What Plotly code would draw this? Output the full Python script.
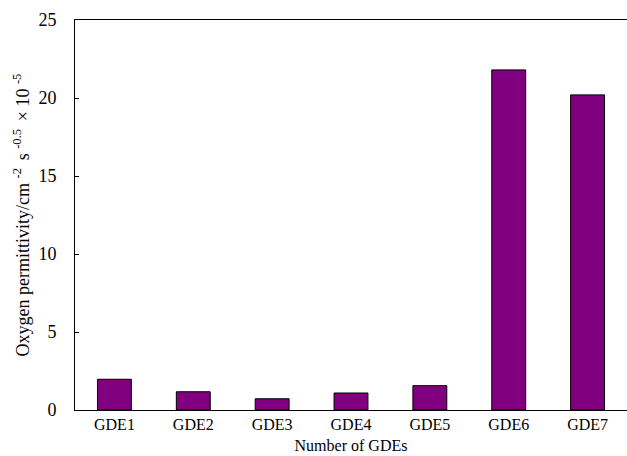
import plotly.graph_objects as go

categories = ["GDE1", "GDE2", "GDE3", "GDE4", "GDE5", "GDE6", "GDE7"]
values = [1.97, 1.17, 0.72, 1.09, 1.56, 21.8, 20.2]
y_ticks = [0, 5, 10, 15, 20, 25]

fig = go.Figure(go.Bar(
    x=categories, y=values,
    marker=dict(color="#800080", line=dict(color="black", width=1)),
    width=0.43,
))

FAM = "Liberation Serif, Times New Roman, serif"
font = dict(family=FAM, size=16, color="black")
yfont = dict(family=FAM, size=18, color="black")
ytitle_font = dict(family=FAM, size=18, color="black")

fig.update_layout(
    width=627, height=456,
    margin=dict(l=75, r=0, t=20, b=46),
    paper_bgcolor="white", plot_bgcolor="white",
    font=font, showlegend=False,
    xaxis=dict(
        range=[-0.5, 6.5], showline=True, linecolor="black", linewidth=1,
        mirror=True, ticks="", showgrid=False, zeroline=False,
        title=dict(text="Number of GDEs", standoff=7, font=font),
        tickfont=font,
    ),
    yaxis=dict(
        range=[0, 25], tickvals=y_ticks, showline=True, linecolor="black",
        linewidth=1, mirror=False, ticks="inside", ticklen=4, tickcolor="black",
        showgrid=False, zeroline=False, ticklabelstandoff=14,
        title=dict(text="Oxygen permittivity/cm <sup>-2 </sup> s <sup>-0.5 </sup> × 10 <sup>-5</sup>",
                   standoff=4, font=ytitle_font),
        tickfont=yfont,
    ),
)

fig.write_html("out.html")
